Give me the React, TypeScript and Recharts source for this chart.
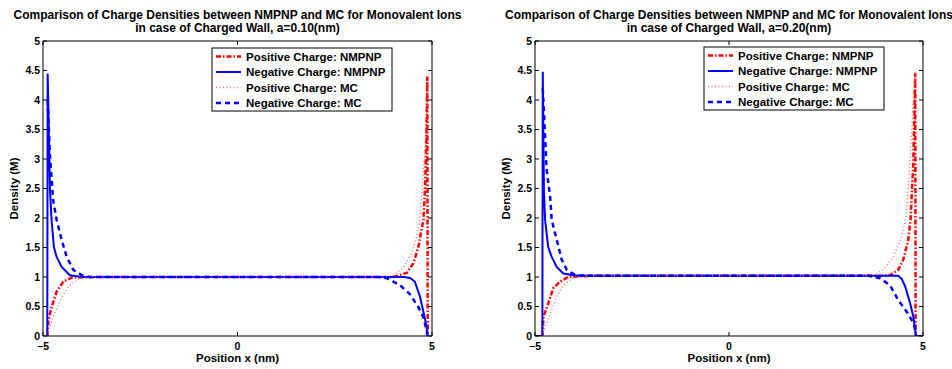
import React from 'react';
import { LineChart, Line, XAxis, YAxis } from 'recharts';

// ---------- tick values / labels ----------
const yTicks = [0, 0.5, 1, 1.5, 2, 2.5, 3, 3.5, 4, 4.5, 5];
const yTickLabels = ['0', '0.5', '1', '1.5', '2', '2.5', '3', '3.5', '4', '4.5', '5'];
const xTicks = [-5, 0, 5];
const xTickLabels = ['\u22125', '0', '5'];

const titleLine1 = 'Comparison of Charge Densities between NMPNP and MC for Monovalent Ions';
const leftTitleLine2 = 'in case of Charged Wall, a=0.10(nm)';
const rightTitleLine2 = 'in case of Charged Wall, a=0.20(nm)';
const xLabel = 'Position x (nm)';
const yLabel = 'Density (M)';
const legendNames = [
  'Positive Charge: NMPNP',
  'Negative Charge: NMPNP',
  'Positive Charge: MC',
  'Negative Charge: MC',
];

// ---------- left panel (a = 0.10 nm) ----------
const lPosNmpnpX = [-4.89, -4.86, -4.78, -4.65, -4.48, -4.26, -3.5, 0, 4.0, 4.35, 4.52, 4.65, 4.73, 4.78, 4.82, 4.85, 4.88, 4.89];
const lPosNmpnpY = [0, 0.27, 0.49, 0.75, 0.92, 0.99, 1.0, 1.0, 1.0, 1.07, 1.23, 1.51, 1.8, 1.97, 2.5, 3.2, 4.4, 0];

const lNegNmpnpX = [-4.89, -4.88, -4.82, -4.78, -4.72, -4.65, -4.52, -4.31, -4.0, 0, 4.3, 4.45, 4.56, 4.69, 4.79, 4.86, 4.88];
const lNegNmpnpY = [0, 4.45, 2.48, 1.97, 1.51, 1.34, 1.17, 1.03, 1.0, 1.0, 1.0, 0.98, 0.92, 0.67, 0.38, 0.16, 0];

const lPosMcX = [-4.9, -4.86, -4.74, -4.56, -4.35, -4.05, -3.8, 0, 3.8, 4.0, 4.26, 4.48, 4.6, 4.69, 4.76, 4.82, 4.88, 4.92];
const lPosMcY = [0, 0.08, 0.33, 0.6, 0.84, 0.98, 1.0, 1.0, 1.0, 1.03, 1.15, 1.41, 1.68, 1.97, 2.65, 3.2, 4.0, 4.49];

const lNegMcX = [-4.88, -4.82, -4.74, -4.65, -4.52, -4.39, -4.22, -4.0, -3.79, 0, 3.6, 3.84, 4.18, 4.43, 4.65, 4.78, 4.86, 4.89];
const lNegMcY = [4.0, 3.05, 2.31, 1.97, 1.63, 1.34, 1.12, 1.03, 1.0, 1.0, 1.0, 0.98, 0.86, 0.71, 0.49, 0.31, 0.1, 0];

// ---------- right panel (a = 0.20 nm) ----------
const rPosNmpnpX = [-4.81, -4.78, -4.66, -4.53, -4.36, -4.14, -3.5, 0, 3.9, 4.15, 4.36, 4.49, 4.62, 4.68, 4.75, 4.8, 4.81];
const rPosNmpnpY = [0, 0.33, 0.55, 0.81, 0.92, 1.0, 1.02, 1.02, 1.02, 1.03, 1.12, 1.29, 1.63, 1.97, 2.93, 4.46, 0];

const rNegNmpnpX = [-5, -4.81, -4.8, -4.77, -4.74, -4.66, -4.57, -4.44, -4.27, -4.01, -3.5, 0, 4.0, 4.36, 4.45, 4.54, 4.67, 4.75, 4.82, 5];
const rNegNmpnpY = [0, 0, 4.48, 2.48, 1.97, 1.51, 1.34, 1.17, 1.06, 1.03, 1.02, 1.02, 1.02, 1.02, 0.97, 0.84, 0.55, 0.33, 0, 0];

const rPosMcX = [-4.81, -4.78, -4.61, -4.44, -4.27, -4.01, -3.7, 0, 3.71, 3.98, 4.23, 4.45, 4.55, 4.62, 4.71, 4.79];
const rPosMcY = [0, 0.08, 0.38, 0.67, 0.86, 0.99, 1.02, 1.02, 1.03, 1.12, 1.34, 1.68, 1.97, 2.53, 3.49, 4.46];

const rNegMcX = [-4.8, -4.7, -4.61, -4.57, -4.44, -4.31, -4.18, -4.01, -3.8, 0, 3.6, 3.89, 4.15, 4.36, 4.58, 4.71, 4.77, 4.82];
const rNegMcY = [4.2, 2.82, 2.36, 1.97, 1.63, 1.29, 1.12, 1.05, 1.02, 1.02, 1.02, 0.98, 0.86, 0.61, 0.41, 0.27, 0.2, 0];

const zip = (xs: number[], ys: number[]) => xs.map((x, i) => ({ x, y: ys[i] }));

const FONT = '"Liberation Sans", Arial, Helvetica, sans-serif';
const TL = 4;
const TICK_FS = 10.5;
const RED = '#ff0000';
const BLUE = '#0000ff';
const PINK = '#ff6a6a';

const seriesStyles = [
  { stroke: RED, strokeWidth: 2.5, dash: '5 2 1.5 2' },
  { stroke: BLUE, strokeWidth: 2, dash: undefined as string | undefined },
  { stroke: PINK, strokeWidth: 1.4, dash: '1 2.5' },
  { stroke: BLUE, strokeWidth: 2.5, dash: '5 4' },
];

const fmtY = (v: number) => yTickLabels[yTicks.indexOf(v)] ?? String(v);
const fmtX = (v: number) => xTickLabels[xTicks.indexOf(v)] ?? String(v);

const BottomTick = (p: any) => (
  <g>
    <line x1={p.x} x2={p.x} y1={p.y} y2={p.y - TL} stroke="#000" strokeWidth={1} />
    <text x={p.x} y={p.y + 13.5} textAnchor="middle" fontFamily={FONT} fontWeight="bold" fontSize={TICK_FS} fill="#000">
      {fmtX(p.payload.value)}
    </text>
  </g>
);
const TopTick = (p: any) => (
  <line x1={p.x} x2={p.x} y1={p.y} y2={p.y + TL} stroke="#000" strokeWidth={1} />
);
const LeftTick = (p: any) => (
  <g>
    <line x1={p.x} x2={p.x + TL} y1={p.y} y2={p.y} stroke="#000" strokeWidth={1} />
    <text x={p.x - 3} y={p.y + 3.8} textAnchor="end" fontFamily={FONT} fontWeight="bold" fontSize={TICK_FS} fill="#000">
      {fmtY(p.payload.value)}
    </text>
  </g>
);
const RightTick = (p: any) => (
  <line x1={p.x} x2={p.x - TL} y1={p.y} y2={p.y} stroke="#000" strokeWidth={1} />
);

type Panel = {
  left: number;
  margin: { top: number; right: number; bottom: number; left: number };
  series: { x: number; y: number }[][];
};

// axes take 1px each (width/height 1), margins account for it
const panels: Panel[] = [
  {
    left: 0,
    margin: { top: 40, right: 43, bottom: 32, left: 42 },
    series: [zip(lPosNmpnpX, lPosNmpnpY), zip(lNegNmpnpX, lNegNmpnpY), zip(lPosMcX, lPosMcY), zip(lNegMcX, lNegMcY)],
  },
  {
    left: 476,
    margin: { top: 40, right: 28, bottom: 32, left: 58 },
    series: [zip(rPosNmpnpX, rPosNmpnpY), zip(rNegNmpnpX, rNegNmpnpY), zip(rPosMcX, rPosMcY), zip(rNegMcX, rNegMcY)],
  },
];

const axisLine = { stroke: '#000', strokeWidth: 1 };

function PanelChart({ panel }: { panel: Panel }) {
  return (
    <div style={{ position: 'absolute', left: panel.left, top: 0 }}>
      <LineChart width={476} height={369} margin={panel.margin}>
        <XAxis
          dataKey="x"
          type="number"
          domain={[-5, 5]}
          allowDataOverflow
          ticks={xTicks}
          interval={0}
          height={1}
          tickSize={0}
          tickMargin={0}
          tickLine={false}
          tick={BottomTick}
          axisLine={axisLine}
        />
        <XAxis
          xAxisId="top"
          orientation="top"
          dataKey="x"
          type="number"
          domain={[-5, 5]}
          allowDataOverflow
          ticks={xTicks}
          interval={0}
          height={1}
          tickSize={0}
          tickMargin={0}
          tickLine={false}
          tick={TopTick}
          axisLine={axisLine}
        />
        <YAxis
          type="number"
          domain={[0, 5]}
          allowDataOverflow
          ticks={yTicks}
          interval={0}
          width={1}
          tickSize={0}
          tickMargin={0}
          tickLine={false}
          tick={LeftTick}
          axisLine={axisLine}
        />
        <YAxis
          yAxisId="right"
          orientation="right"
          type="number"
          domain={[0, 5]}
          allowDataOverflow
          ticks={yTicks}
          interval={0}
          width={1}
          tickSize={0}
          tickMargin={0}
          tickLine={false}
          tick={RightTick}
          axisLine={axisLine}
        />
        {panel.series.map((d, i) => (
          <Line
            key={i}
            data={d}
            dataKey="y"
            type="linear"
            dot={false}
            activeDot={false}
            stroke={seriesStyles[i].stroke}
            strokeWidth={seriesStyles[i].strokeWidth}
            strokeDasharray={seriesStyles[i].dash}
            isAnimationActive={false}
          />
        ))}
      </LineChart>
    </div>
  );
}

function Texts({ plotLeft, plotRight, title2, legendLeft, legendTop }: any) {
  const cx = (plotLeft + plotRight) / 2;
  const cy = (41 + 336) / 2;
  return (
    <g fontFamily={FONT} fontWeight="bold" fill="#000">
      <text x={cx} y={18.5} textAnchor="middle" fontSize={12}>{titleLine1}</text>
      <text x={cx} y={32} textAnchor="middle" fontSize={12}>{title2}</text>
      <text x={cx} y={361.5} textAnchor="middle" fontSize={11.5}>{xLabel}</text>
      <text
        x={plotLeft - 25}
        y={cy}
        textAnchor="middle"
        fontSize={11.5}
        transform={`rotate(-90, ${plotLeft - 25}, ${cy})`}
      >
        {yLabel}
      </text>
      <rect x={legendLeft} y={legendTop} width={180} height={63} fill="#fff" stroke="#000" strokeWidth={1} />
      {legendNames.map((name, i) => {
        const yy = legendTop + 8.5 + i * 15.5;
        const s = seriesStyles[i];
        return (
          <g key={name}>
            <line
              x1={legendLeft + 4}
              x2={legendLeft + 29}
              y1={yy}
              y2={yy}
              stroke={s.stroke}
              strokeWidth={s.strokeWidth}
              strokeDasharray={s.dash}
            />
            <text x={legendLeft + 34} y={yy + 4} fontSize={11.5}>{name}</text>
          </g>
        );
      })}
    </g>
  );
}

export default function App() {
  return (
    <div style={{ position: 'absolute', left: 0, top: 0, width: 952, height: 369, background: '#fff', overflow: 'hidden' }}>
      {panels.map((p, i) => (
        <PanelChart key={i} panel={p} />
      ))}
      <svg width={952} height={369} style={{ position: 'absolute', left: 0, top: 0, pointerEvents: 'none' }}>
        <Texts plotLeft={43} plotRight={432} title2={leftTitleLine2} legendLeft={212} legendTop={48} />
        <Texts plotLeft={535} plotRight={923} title2={rightTitleLine2} legendLeft={704} legendTop={47} />
      </svg>
    </div>
  );
}
